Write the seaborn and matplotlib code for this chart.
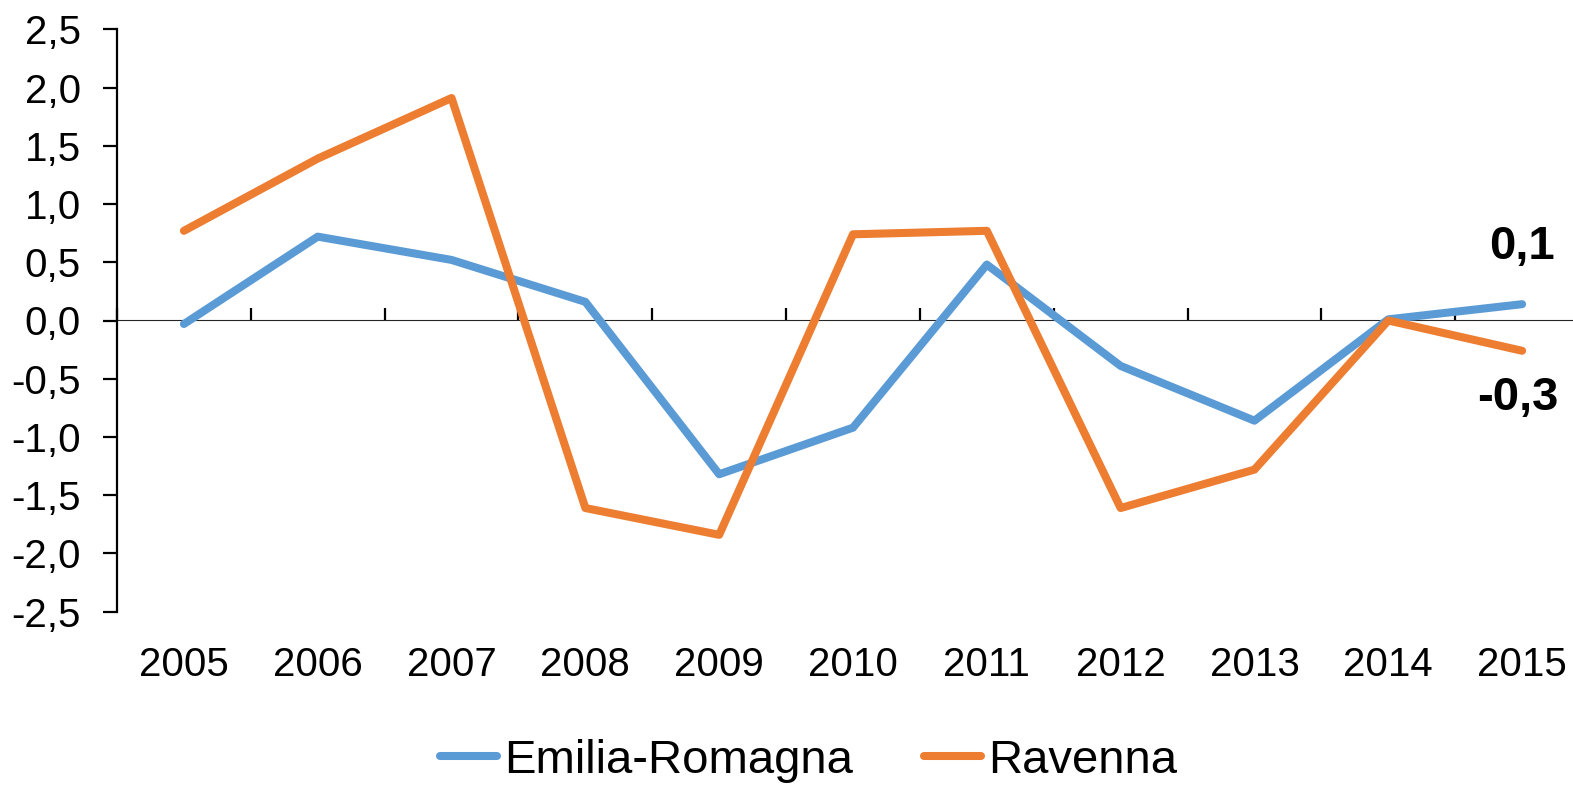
import numpy as np
import pandas as pd
import matplotlib
matplotlib.use("Agg")
import matplotlib.pyplot as plt
import seaborn as sns

# Data
years = [2005, 2006, 2007, 2008, 2009, 2010, 2011, 2012, 2013, 2014, 2015]
emilia_romagna = [-0.03, 0.72, 0.52, 0.16, -1.32, -0.92, 0.48, -0.39, -0.86, 0.01, 0.14]
ravenna = [0.77, 1.39, 1.91, -1.61, -1.84, 0.74, 0.77, -1.61, -1.28, 0.0, -0.26]
series_names = ["Emilia-Romagna", "Ravenna"]
colors = ["#5B9BD5", "#ED7D31"]
y_ticks = [-2.5, -2.0, -1.5, -1.0, -0.5, 0.0, 0.5, 1.0, 1.5, 2.0, 2.5]

sns.set_style("white")
plt.rcParams['font.family'] = ['Liberation Sans Narrow', 'Liberation Sans', 'DejaVu Sans']
plt.rcParams['text.color'] = 'black'
plt.rcParams['xtick.color'] = 'black'
plt.rcParams['ytick.color'] = 'black'
plt.rcParams['xtick.labelcolor'] = 'black'
plt.rcParams['ytick.labelcolor'] = 'black'

df = pd.DataFrame({
    'Anno': years * 2,
    'Valore': emilia_romagna + ravenna,
    'Serie': [series_names[0]] * len(years) + [series_names[1]] * len(years),
})

W, H = 1573, 791
fig = plt.figure(figsize=(W / 100, H / 100), dpi=100)
# axes extends past right edge like the original (cropped)
ax = fig.add_axes([117 / W, 1 - 611.7 / H, 1472 / W, (611.7 - 29.3) / H])

sns.lineplot(data=df, x='Anno', y='Valore', hue='Serie', palette=colors,
             linewidth=5.8, ax=ax, legend=False, solid_capstyle='round')

ax.set_xlim(years[0] - 0.5, years[-1] + 0.5)
ax.set_ylim(-2.5, 2.5)
ax.set_xlabel('')
ax.set_ylabel('')

# y axis
ax.set_yticks(y_ticks)
ax.set_yticklabels([f"{t:.1f}".replace('.', ',') for t in y_ticks], fontsize=29)
ax.tick_params(axis='y', direction='out', length=10, width=1.6, color='black', pad=16, left=True)

# x labels at the bottom, no ticks
ax.set_xticks(years)
ax.set_xticklabels([str(y) for y in years], fontsize=29)
ax.tick_params(axis='x', length=0, pad=25)

for s in ['top', 'right', 'bottom']:
    ax.spines[s].set_visible(False)
ax.spines['left'].set_linewidth(1.6)
ax.spines['left'].set_color('black')

# zero line with tick marks between categories
zero_ax = ax.secondary_xaxis(0.5)
zero_ax.set_xticks([y - 0.5 for y in years] + [years[-1] + 0.5])
zero_ax.set_xticklabels([])
zero_ax.tick_params(direction='out', length=9, width=1.6, color='black')
zero_ax.spines['bottom'].set_linewidth(1.6)
zero_ax.spines['bottom'].set_color('black')

# end labels
ax.annotate(f"{emilia_romagna[-1]:.1f}".replace('.', ','), (years[-1], emilia_romagna[-1]),
            xytext=(0, 41), textcoords='offset points', ha='center', va='center',
            fontsize=34, fontweight='bold', color='black')
ax.annotate(f"{ravenna[-1]:.1f}".replace('.', ','), (years[-1], ravenna[-1]),
            xytext=(-3, -34), textcoords='offset points', ha='center', va='center',
            fontsize=34, fontweight='bold', color='black')

handles = [plt.Line2D([], [], color=c, linewidth=5.8, solid_capstyle='round') for c in colors]
fig.legend(handles, series_names, loc='center', bbox_to_anchor=(0.514, 0.038), ncol=2,
           frameon=False, fontsize=34, handlelength=1.2, handletextpad=0.15,
           columnspacing=1.5, labelcolor='black')

fig.savefig('out.png', dpi=100)
